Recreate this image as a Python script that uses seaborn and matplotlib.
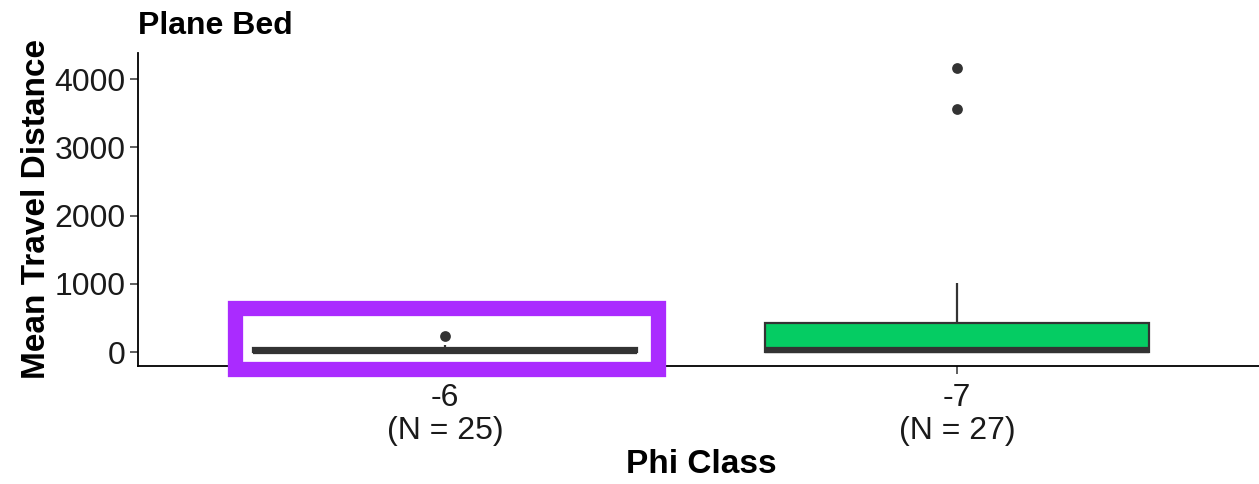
import numpy as np
import pandas as pd
import matplotlib
matplotlib.use("Agg")
import matplotlib.pyplot as plt
from matplotlib.patches import Rectangle
import seaborn as sns

# Mean travel distance of tracer clasts on the plane bed, by phi class
phi_classes = ["-6", "-7"]
travel_phi_6 = [0, 0, 1, 2, 3, 4, 5, 7, 9, 11, 13, 16, 20, 23, 26, 30, 35, 42,
                55, 62, 70, 78, 88, 110, 235]
travel_phi_7 = [0, 0, 0, 1, 2, 3, 4, 6, 8, 10, 14, 18, 24, 30, 45, 70, 110,
                180, 290, 400, 465, 560, 680, 820, 1010, 3565, 4165]
box_colors = ["#7A3FD0", "#05CC63"]

df = pd.DataFrame({
    "phi": [phi_classes[0]] * len(travel_phi_6) + [phi_classes[1]] * len(travel_phi_7),
    "dist": travel_phi_6 + travel_phi_7,
})

sns.set_theme(style="white")
plt.rcParams["font.family"] = ["Liberation Sans", "DejaVu Sans"]
plt.rcParams["text.color"] = "black"
plt.rcParams["axes.labelcolor"] = "black"

fig = plt.figure(figsize=(12.59, 4.84), dpi=100)
ax = fig.add_axes([0.1096, 0.2438, 0.8946, 0.6467])

edge = "#333333"
sns.boxplot(
    data=df, x="phi", y="dist", order=phi_classes, hue="phi",
    hue_order=phi_classes, palette=box_colors, legend=False, saturation=1,
    width=0.75, linecolor=edge, linewidth=1.6, whis=1.5,
    fliersize=0, showcaps=False,
    medianprops={"color": edge, "linewidth": 4.5, "solid_capstyle": "butt"},
    ax=ax,
)

# outliers drawn as filled dots
for i, vals in enumerate([travel_phi_6, travel_phi_7]):
    v = np.asarray(vals, dtype=float)
    q1, q3 = np.percentile(v, [25, 75])
    hi = q3 + 1.5 * (q3 - q1)
    lo = q1 - 1.5 * (q3 - q1)
    out = v[(v > hi) | (v < lo)]
    ax.scatter(np.full(out.shape, i), out, s=60, color=edge, zorder=5,
               linewidths=0)

ax.set_xlim(-0.6, 1.6)
ax.set_ylim(-205, 4384)
ax.set_yticks([0, 1000, 2000, 3000, 4000])
ax.set_xticks(range(len(phi_classes)))
counts = [len(travel_phi_6), len(travel_phi_7)]
ax.set_xticklabels([f"{p}\n(N = {n})" for p, n in zip(phi_classes, counts)],
                   linespacing=1.15)

for s in ["top", "right"]:
    ax.spines[s].set_visible(False)
for s in ["left", "bottom"]:
    ax.spines[s].set_color("black")
    ax.spines[s].set_linewidth(1.3)

ax.tick_params(axis="both", which="both", length=6, width=1.1, color=edge,
               labelsize=23, labelcolor="#1a1a1a", pad=3, bottom=True, left=True)
ax.tick_params(axis="x", pad=6)

ax.set_xlabel("Phi Class", fontsize=24, fontweight="bold", labelpad=2)
ax.set_ylabel("Mean Travel Distance", fontsize=24, fontweight="bold", labelpad=2)
ax.set_title("Plane Bed", loc="left", fontsize=23, fontweight="bold",
             x=0.0, pad=14)

# highlight frame around the -6 class
ax.add_patch(Rectangle((-0.411, -242), 0.826, 894, fill=False,
                       edgecolor="#AA2BFF", linewidth=11, clip_on=False,
                       zorder=10))

fig.savefig("out.png", dpi=100)
